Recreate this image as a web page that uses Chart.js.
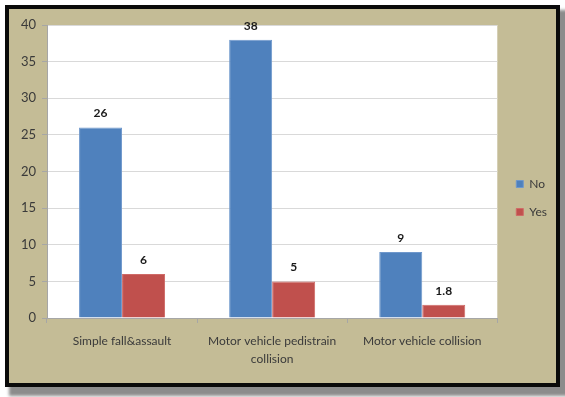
<!DOCTYPE html>
<html>
<head>
<meta charset="utf-8">
<script src="https://cdn.jsdelivr.net/npm/chart.js@4/dist/chart.umd.min.js"></script>
<style>
  html, body { margin: 0; padding: 0; background: #ffffff; }
  body { width: 565px; height: 397px; position: relative; overflow: hidden; }
  #marco {
    position: absolute; left: 5px; top: 5px;
    width: 555px; height: 382px; box-sizing: border-box;
    border: 4px solid #0a0a0a;
    background: #c4bc96;
    box-shadow: 6px 7px 3px 2px #8c8c8c;
  }
  #lienzo { position: absolute; left: 0; top: 0; width: 547px; height: 374px; }
</style>
</head>
<body>
<div id="marco"><canvas id="lienzo" width="547" height="374"></canvas></div>
<script>
// Categorías y series
const categorias = [
  "Simple fall&assault",
  ["Motor vehicle pedistrain", "collision"],
  "Motor vehicle collision"
];
const valoresNo = [26, 38, 9];
const valoresSi = [6, 5, 1.8];
const ticksY = [0, 5, 10, 15, 20, 25, 30, 35, 40];

const fuente = "Lato, 'Liberation Sans', sans-serif";
const grisTexto = "#3a3a3a";

// Fondo blanco del área de trazado
const fondoArea = {
  id: "fondoArea",
  beforeDraw(chart) {
    const { ctx, chartArea: a } = chart;
    ctx.save();
    ctx.fillStyle = "#ffffff";
    ctx.fillRect(a.left, a.top, a.right - a.left, a.bottom - a.top);
    ctx.restore();
  }
};

// Etiquetas de valor encima de cada barra
const etiquetasValor = {
  id: "etiquetasValor",
  afterDatasetsDraw(chart) {
    const ctx = chart.ctx;
    ctx.save();
    ctx.font = "bold 12px " + fuente;
    ctx.fillStyle = "#1a1a1a";
    ctx.textAlign = "center";
    ctx.textBaseline = "middle";
    chart.data.datasets.forEach((ds, i) => {
      chart.getDatasetMeta(i).data.forEach((barra, j) => {
        ctx.fillText(String(ds.data[j]), barra.x, barra.y - 14);
      });
    });
    ctx.restore();
  }
};

// Recoloca la leyenda: algo más a la derecha y más arriba
const ajusteLeyenda = {
  id: "ajusteLeyenda",
  afterLayout(chart) {
    chart.legend.left += 3;
    chart.legend.right += 3;
    chart.legend.top -= 6;
    chart.legend.bottom -= 6;
  }
};

const ctx = document.getElementById("lienzo").getContext("2d");
const grafico = new Chart(ctx, {
  type: "bar",
  data: {
    labels: categorias,
    datasets: [
      {
        label: "No",
        data: valoresNo,
        backgroundColor: "#4f81bd",
        borderColor: "#6f98cc",
        borderWidth: 1
      },
      {
        label: "Yes",
        data: valoresSi,
        backgroundColor: "#c0504d",
        borderColor: "#cf6a67",
        borderWidth: 1
      }
    ]
  },
  options: {
    responsive: false,
    animation: false,
    layout: { padding: { top: 16, left: 0, right: 2, bottom: 0 } },
    datasets: {
      bar: { categoryPercentage: 0.573, barPercentage: 1 }
    },
    scales: {
      x: {
        grid: {
          display: true,
          drawOnChartArea: false,
          offset: true,
          tickLength: 5,
          color: "#a6a6a6"
        },
        border: { color: "#a6a6a6" },
        ticks: {
          font: { family: fuente, size: 12, lineHeight: 1.5 },
          color: grisTexto,
          padding: 9,
          maxRotation: 0,
          autoSkip: false
        },
        afterFit(escala) { escala.height = 65; }
      },
      y: {
        min: 0,
        max: 40,
        afterBuildTicks(escala) {
          escala.ticks = ticksY.map(v => ({ value: v }));
        },
        grid: { color: "#d9d9d9", tickLength: 5, tickColor: "#a6a6a6" },
        border: { color: "#a6a6a6" },
        ticks: {
          font: { family: fuente, size: 13 },
          color: grisTexto,
          padding: 6
        },
        afterFit(escala) { escala.width = 38; }
      }
    },
    plugins: {
      legend: {
        position: "right",
        labels: {
          boxWidth: 7,
          boxHeight: 7,
          padding: 16,
          color: grisTexto,
          font: { family: fuente, size: 12 }
        }
      },
      tooltip: { enabled: false }
    }
  },
  plugins: [fondoArea, etiquetasValor, ajusteLeyenda]
});
</script>
</body>
</html>
